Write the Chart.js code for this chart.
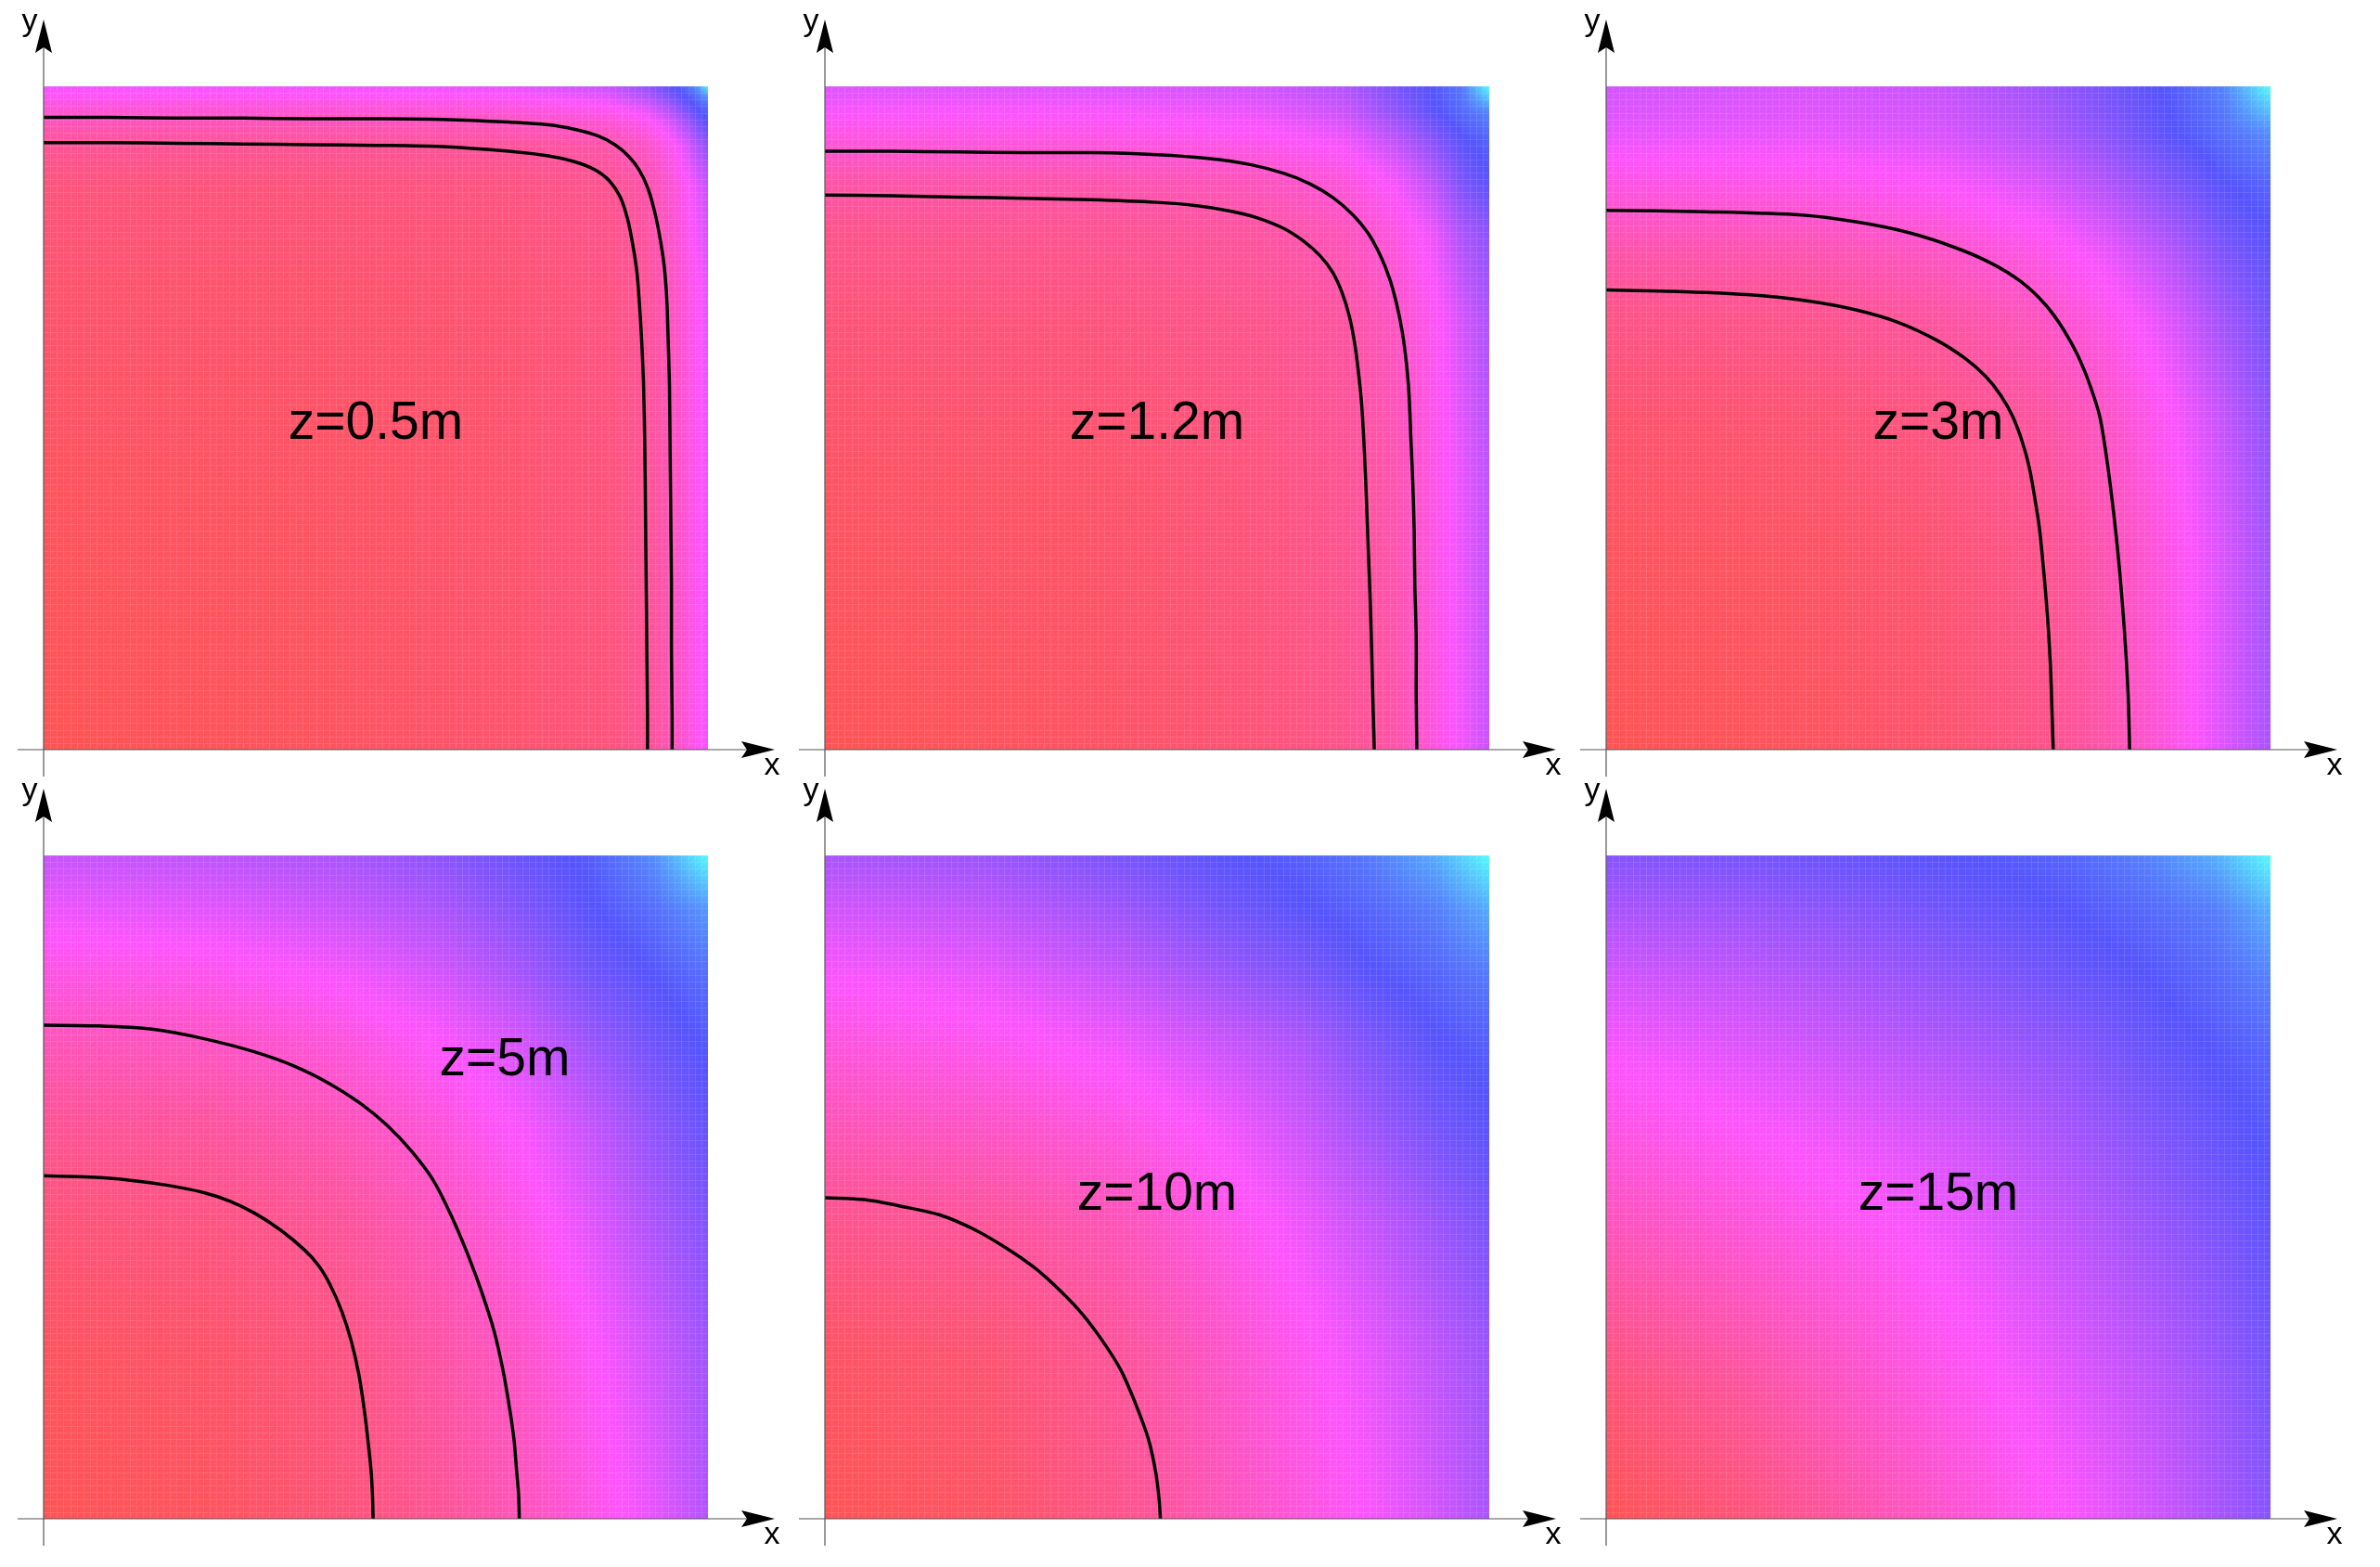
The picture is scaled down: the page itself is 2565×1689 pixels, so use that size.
<!DOCTYPE html>
<html><head><meta charset="utf-8">
<script src="https://cdn.jsdelivr.net/npm/chart.js@4.4.1/dist/chart.umd.min.js"></script>
<style>
html,body{margin:0;padding:0;background:#fff;overflow:hidden;width:2565px;height:1689px;}
canvas{position:absolute;}
</style></head><body>
<script>
// ---------------- DATA ----------------
const panelLabels = ['z=0.5m', 'z=1.2m', 'z=3m', 'z=5m', 'z=10m', 'z=15m'];
const labelX = [0.5, 0.5, 0.5, 0.694, 0.5, 0.5];
const labelY = [0.497, 0.497, 0.497, 0.697, 0.494, 0.494];

// colour-scale position (0 = red, 1/3 = magenta, 2/3 = blue, 1 = cyan) read at grid nodes
// rows: y nodes ascending, columns: x nodes ascending
const nodes1 = [0, 0.4, 0.7, 0.85, 0.91, 0.945, 0.97, 0.985, 1];
const grid1 = [
  [0.00, 0.02, 0.05, 0.08, 0.13, 0.20, 0.27, 0.32, 0.36],
  [0.02, 0.03, 0.05, 0.08, 0.13, 0.20, 0.27, 0.32, 0.36],
  [0.05, 0.05, 0.06, 0.09, 0.14, 0.21, 0.28, 0.33, 0.38],
  [0.08, 0.08, 0.09, 0.12, 0.17, 0.25, 0.33, 0.39, 0.44],
  [0.13, 0.13, 0.14, 0.17, 0.23, 0.31, 0.41, 0.49, 0.55],
  [0.20, 0.20, 0.21, 0.25, 0.31, 0.41, 0.52, 0.60, 0.66],
  [0.27, 0.27, 0.28, 0.33, 0.41, 0.52, 0.63, 0.68, 0.72],
  [0.32, 0.32, 0.33, 0.39, 0.49, 0.60, 0.68, 0.73, 0.80],
  [0.36, 0.36, 0.38, 0.44, 0.55, 0.66, 0.72, 0.80, 1.00]
];
const nodes2 = [0, 0.4, 0.65, 0.78, 0.86, 0.92, 0.96, 1];
const grid2 = [
  [0.00, 0.03, 0.07, 0.11, 0.17, 0.28, 0.36, 0.44],
  [0.03, 0.04, 0.08, 0.12, 0.18, 0.29, 0.38, 0.46],
  [0.07, 0.08, 0.11, 0.15, 0.22, 0.32, 0.42, 0.50],
  [0.11, 0.12, 0.15, 0.20, 0.28, 0.38, 0.50, 0.56],
  [0.17, 0.18, 0.21, 0.27, 0.36, 0.48, 0.60, 0.66],
  [0.27, 0.28, 0.31, 0.36, 0.46, 0.58, 0.66, 0.70],
  [0.34, 0.34, 0.37, 0.43, 0.55, 0.66, 0.71, 0.76],
  [0.40, 0.40, 0.42, 0.48, 0.60, 0.68, 0.74, 1.00]
];
const nodes3 = [0, 0.3, 0.5, 0.65, 0.75, 0.85, 0.93, 1];
const grid3 = [
  [0.00, 0.02, 0.05, 0.10, 0.17, 0.28, 0.40, 0.50],
  [0.02, 0.03, 0.06, 0.11, 0.18, 0.29, 0.41, 0.52],
  [0.05, 0.06, 0.09, 0.15, 0.22, 0.33, 0.45, 0.56],
  [0.10, 0.11, 0.15, 0.21, 0.29, 0.40, 0.52, 0.61],
  [0.17, 0.18, 0.22, 0.29, 0.37, 0.48, 0.59, 0.65],
  [0.28, 0.29, 0.33, 0.40, 0.48, 0.58, 0.66, 0.70],
  [0.38, 0.38, 0.41, 0.48, 0.56, 0.66, 0.72, 0.78],
  [0.42, 0.41, 0.44, 0.52, 0.60, 0.68, 0.76, 1.00]
];
const nodes4 = [0, 0.25, 0.45, 0.6, 0.72, 0.82, 0.92, 1];
const grid4 = [
  [0.00, 0.02, 0.07, 0.13, 0.20, 0.28, 0.38, 0.48],
  [0.02, 0.04, 0.09, 0.16, 0.23, 0.32, 0.43, 0.52],
  [0.07, 0.09, 0.14, 0.21, 0.29, 0.39, 0.50, 0.58],
  [0.13, 0.15, 0.20, 0.27, 0.35, 0.45, 0.56, 0.64],
  [0.20, 0.22, 0.27, 0.34, 0.42, 0.53, 0.62, 0.68],
  [0.28, 0.30, 0.35, 0.42, 0.51, 0.61, 0.67, 0.72],
  [0.37, 0.39, 0.44, 0.50, 0.58, 0.66, 0.72, 0.80],
  [0.44, 0.46, 0.50, 0.56, 0.63, 0.68, 0.78, 1.00]
];
const nodes5 = [0, 0.25, 0.45, 0.6, 0.72, 0.82, 0.92, 1];
const grid5 = [
  [0.00, 0.03, 0.11, 0.20, 0.27, 0.34, 0.42, 0.50],
  [0.03, 0.06, 0.14, 0.23, 0.31, 0.38, 0.46, 0.53],
  [0.11, 0.14, 0.20, 0.29, 0.37, 0.45, 0.53, 0.60],
  [0.20, 0.23, 0.29, 0.36, 0.44, 0.53, 0.61, 0.66],
  [0.27, 0.31, 0.37, 0.44, 0.50, 0.59, 0.66, 0.69],
  [0.34, 0.38, 0.45, 0.53, 0.59, 0.66, 0.70, 0.74],
  [0.42, 0.46, 0.53, 0.61, 0.66, 0.70, 0.75, 0.84],
  [0.50, 0.53, 0.60, 0.66, 0.69, 0.74, 0.84, 1.00]
];
const nodes6 = [0, 0.2, 0.4, 0.55, 0.7, 0.82, 0.92, 1];
const grid6 = [
  [0.00, 0.07, 0.18, 0.26, 0.34, 0.42, 0.50, 0.57],
  [0.07, 0.14, 0.24, 0.31, 0.39, 0.46, 0.53, 0.60],
  [0.18, 0.24, 0.30, 0.37, 0.45, 0.52, 0.58, 0.64],
  [0.26, 0.31, 0.37, 0.42, 0.50, 0.57, 0.63, 0.67],
  [0.34, 0.39, 0.45, 0.50, 0.56, 0.63, 0.67, 0.70],
  [0.42, 0.46, 0.52, 0.57, 0.63, 0.67, 0.71, 0.76],
  [0.50, 0.53, 0.58, 0.63, 0.67, 0.71, 0.75, 0.85],
  [0.57, 0.60, 0.64, 0.67, 0.70, 0.76, 0.85, 1.00]
];

// contour lines [x, y] (from the left edge round to the bottom edge)
const contour1a = [[0,0.915],[0.1,0.915],[0.2,0.914],[0.3,0.913],[0.4,0.912],[0.5,0.911],[0.6,0.909],[0.7,0.902],[0.76,0.895],[0.8,0.886],[0.83,0.874],[0.852,0.857],[0.868,0.833],[0.879,0.8],[0.887,0.76],[0.893,0.72],[0.897,0.67],[0.9,0.62],[0.903,0.55],[0.905,0.45],[0.906,0.35],[0.907,0.25],[0.908,0.15],[0.909,0.05],[0.909,0]];
const contour1b = [[0,0.953],[0.1,0.953],[0.2,0.952],[0.3,0.952],[0.4,0.951],[0.5,0.951],[0.6,0.95],[0.7,0.946],[0.76,0.942],[0.8,0.935],[0.835,0.925],[0.86,0.912],[0.88,0.895],[0.897,0.873],[0.91,0.845],[0.92,0.81],[0.928,0.77],[0.934,0.73],[0.938,0.68],[0.94,0.62],[0.942,0.55],[0.943,0.45],[0.944,0.35],[0.945,0.25],[0.945,0.15],[0.946,0.05],[0.946,0]];
const contour2a = [[0,0.836],[0.1,0.835],[0.2,0.833],[0.3,0.831],[0.4,0.829],[0.5,0.825],[0.56,0.82],[0.61,0.812],[0.65,0.802],[0.69,0.786],[0.72,0.767],[0.745,0.745],[0.764,0.72],[0.778,0.69],[0.789,0.655],[0.797,0.615],[0.803,0.57],[0.808,0.52],[0.812,0.45],[0.815,0.38],[0.818,0.3],[0.821,0.22],[0.823,0.15],[0.825,0.07],[0.827,0]];
const contour2b = [[0,0.902],[0.1,0.902],[0.2,0.901],[0.3,0.9],[0.4,0.9],[0.5,0.897],[0.58,0.891],[0.64,0.882],[0.69,0.869],[0.73,0.853],[0.765,0.832],[0.795,0.806],[0.818,0.778],[0.836,0.745],[0.85,0.71],[0.861,0.67],[0.869,0.63],[0.875,0.585],[0.879,0.54],[0.882,0.47],[0.885,0.4],[0.887,0.33],[0.888,0.25],[0.89,0.17],[0.89,0.08],[0.891,0]];
const contour3a = [[0,0.693],[0.1,0.691],[0.212,0.686],[0.3,0.677],[0.376,0.663],[0.44,0.644],[0.498,0.617],[0.54,0.59],[0.571,0.563],[0.594,0.534],[0.612,0.502],[0.626,0.465],[0.637,0.425],[0.645,0.38],[0.652,0.335],[0.657,0.287],[0.662,0.23],[0.666,0.175],[0.669,0.12],[0.671,0.06],[0.673,0]];
const contour3b = [[0,0.813],[0.15,0.811],[0.294,0.806],[0.38,0.795],[0.457,0.779],[0.525,0.757],[0.58,0.733],[0.625,0.705],[0.661,0.671],[0.688,0.634],[0.71,0.594],[0.728,0.55],[0.743,0.502],[0.754,0.435],[0.763,0.364],[0.771,0.29],[0.777,0.22],[0.782,0.15],[0.786,0.075],[0.788,0]];
const contour4a = [[0,0.517],[0.07,0.515],[0.125,0.511],[0.185,0.503],[0.24,0.492],[0.28,0.479],[0.317,0.461],[0.357,0.435],[0.394,0.404],[0.415,0.38],[0.432,0.351],[0.449,0.312],[0.463,0.268],[0.474,0.22],[0.482,0.169],[0.488,0.12],[0.493,0.071],[0.495,0.035],[0.496,0]];
const contour4b = [[0,0.744],[0.08,0.743],[0.163,0.738],[0.24,0.724],[0.317,0.704],[0.378,0.682],[0.432,0.655],[0.477,0.626],[0.516,0.594],[0.553,0.555],[0.586,0.511],[0.614,0.456],[0.639,0.397],[0.66,0.34],[0.678,0.283],[0.691,0.226],[0.701,0.169],[0.708,0.12],[0.712,0.071],[0.715,0.035],[0.716,0]];
const contour5a = [[0,0.484],[0.06,0.481],[0.12,0.47],[0.173,0.458],[0.225,0.436],[0.273,0.408],[0.316,0.378],[0.355,0.343],[0.388,0.308],[0.418,0.268],[0.445,0.225],[0.467,0.175],[0.487,0.12],[0.498,0.07],[0.503,0.03],[0.505,0]];

const panelNodes = [nodes1, nodes2, nodes3, nodes4, nodes5, nodes6];
const panelGrids = [grid1, grid2, grid3, grid4, grid5, grid6];
const panelContours = [[contour1a, contour1b], [contour2a, contour2b], [contour3a, contour3b], [contour4a, contour4b], [contour5a], []];

// ---------------- STYLE ----------------
const cmapStops = [[0, [255, 85, 85]], [1/3, [255, 85, 255]], [2/3, [85, 85, 255]], [1, [85, 255, 255]]];
const FONT = '"Liberation Sans", Arial, sans-serif';

function cmap(t) {
  t = Math.max(0, Math.min(1, t));
  for (let k = 0; k < cmapStops.length - 1; k++) {
    const a = cmapStops[k], b = cmapStops[k + 1];
    if (t <= b[0]) {
      const f = (t - a[0]) / (b[0] - a[0]);
      return [a[1][0] + (b[1][0] - a[1][0]) * f, a[1][1] + (b[1][1] - a[1][1]) * f, a[1][2] + (b[1][2] - a[1][2]) * f];
    }
  }
  return cmapStops[cmapStops.length - 1][1];
}
function locate(nodes, v) {
  v = Math.max(0, Math.min(1, v));
  let k = 0;
  while (k < nodes.length - 2 && v > nodes[k + 1]) k++;
  return [k, (v - nodes[k]) / (nodes[k + 1] - nodes[k])];
}

function makeHeatPlugin(idx) {
  return {
    id: 'heat' + idx,
    beforeDatasetsDraw(chart) {
      const nodes = panelNodes[idx], grid = panelGrids[idx];
      const xs = chart.scales.x, ys = chart.scales.y, ctx = chart.ctx;
      const L = Math.round(xs.getPixelForValue(0)), R = Math.round(xs.getPixelForValue(1));
      const T = Math.round(ys.getPixelForValue(1)), B = Math.round(ys.getPixelForValue(0));
      const w = R - L, h = B - T;
      const off = document.createElement('canvas'); off.width = w; off.height = h;
      const octx = off.getContext('2d');
      const img = octx.createImageData(w, h);
      const colLoc = [];
      for (let i = 0; i < w; i++) colLoc.push(locate(nodes, xs.getValueForPixel(L + i + 0.5)));
      for (let j = 0; j < h; j++) {
        const [iy, fy] = locate(nodes, ys.getValueForPixel(T + j + 0.5));
        const r0 = grid[iy], r1 = grid[iy + 1];
        for (let i = 0; i < w; i++) {
          const [ix, fx] = colLoc[i];
          const a = r0[ix] + (r0[ix + 1] - r0[ix]) * fx;
          const b = r1[ix] + (r1[ix + 1] - r1[ix]) * fx;
          const c = cmap(a + (b - a) * fy);
          const p = (j * w + i) * 4;
          img.data[p] = c[0]; img.data[p + 1] = c[1]; img.data[p + 2] = c[2]; img.data[p + 3] = 255;
        }
      }
      octx.putImageData(img, 0, 0);
      ctx.save();
      ctx.drawImage(off, L, T);
      // mesh texture
      ctx.beginPath();
      ctx.rect(L, T, w, h); ctx.clip();
      ctx.lineWidth = 1;
      ctx.strokeStyle = 'rgba(255,255,255,0.10)';
      ctx.beginPath();
      for (let k = 0; k <= 100; k++) {
        const px = Math.round(xs.getPixelForValue(k / 100)) + 0.5;
        const py = Math.round(ys.getPixelForValue(k / 100)) + 0.5;
        ctx.moveTo(px, T); ctx.lineTo(px, B);
        ctx.moveTo(L, py); ctx.lineTo(R, py);
      }
      ctx.stroke();
      ctx.strokeStyle = 'rgba(200,0,60,0.06)';
      ctx.beginPath();
      for (let k = -100; k <= 100; k++) {
        ctx.moveTo(xs.getPixelForValue(k / 100), ys.getPixelForValue(0));
        ctx.lineTo(xs.getPixelForValue(k / 100 + 1), ys.getPixelForValue(1));
      }
      ctx.stroke();
      ctx.restore();
    },
    afterDatasetsDraw(chart) {
      const xs = chart.scales.x, ys = chart.scales.y, ctx = chart.ctx;
      const L = xs.getPixelForValue(0), R = xs.getPixelForValue(1);
      const T = ys.getPixelForValue(1), B = ys.getPixelForValue(0);
      ctx.save();
      // axes
      ctx.strokeStyle = '#555';
      ctx.lineWidth = 1.2;
      ctx.beginPath();
      ctx.moveTo(L - 28, B); ctx.lineTo(R + 45, B);
      ctx.moveTo(L, B + 29); ctx.lineTo(L, T - 45);
      ctx.stroke();
      ctx.fillStyle = '#000';
      // x arrow
      const xt = R + 72;
      ctx.beginPath();
      ctx.moveTo(xt, B); ctx.lineTo(xt - 36, B - 9); ctx.lineTo(xt - 30, B); ctx.lineTo(xt - 36, B + 9); ctx.closePath(); ctx.fill();
      // y arrow
      const yt = T - 72;
      ctx.beginPath();
      ctx.moveTo(L, yt); ctx.lineTo(L - 9, yt + 36); ctx.lineTo(L, yt + 30); ctx.lineTo(L + 9, yt + 36); ctx.closePath(); ctx.fill();
      // axis names
      ctx.font = '34px ' + FONT;
      ctx.textAlign = 'center';
      ctx.textBaseline = 'alphabetic';
      ctx.fillText('x', R + 69, B + 27);
      ctx.fillText('y', L - 15, T - 60);
      // panel label
      ctx.font = '57px ' + FONT;
      ctx.fillText(panelLabels[idx], xs.getPixelForValue(labelX[idx]), ys.getPixelForValue(labelY[idx]) + 0.716 * 57 / 2);
      ctx.restore();
    }
  };
}

const COLW = 842, ROWH = 829, CW = 842, CH = 860;
for (let idx = 0; idx < 6; idx++) {
  const col = idx % 3, row = Math.floor(idx / 3);
  const cv = document.createElement('canvas');
  cv.width = CW; cv.height = CH;
  cv.style.left = (col * COLW) + 'px';
  cv.style.top = (row * ROWH) + 'px';
  cv.style.width = CW + 'px'; cv.style.height = CH + 'px';
  document.body.appendChild(cv);
  const datasets = panelContours[idx].map(c => ({
    data: c.map(p => ({ x: p[0], y: p[1] })),
    showLine: true,
    borderColor: '#000',
    borderWidth: 3.5,
    borderJoinStyle: 'round',
    pointRadius: 0,
    tension: 0.3,
    fill: false
  }));
  new Chart(cv, {
    type: 'scatter',
    data: { datasets },
    options: {
      responsive: false,
      animation: false,
      devicePixelRatio: 1,
      layout: { padding: { left: 47, top: 93, right: CW - 47 - 716, bottom: CH - 93 - 715 } },
      scales: {
        x: { type: 'linear', min: 0, max: 1, display: false },
        y: { type: 'linear', min: 0, max: 1, display: false }
      },
      plugins: { legend: { display: false }, tooltip: { enabled: false }, title: { display: false } }
    },
    plugins: [makeHeatPlugin(idx)]
  });
}
</script>
</body></html>
